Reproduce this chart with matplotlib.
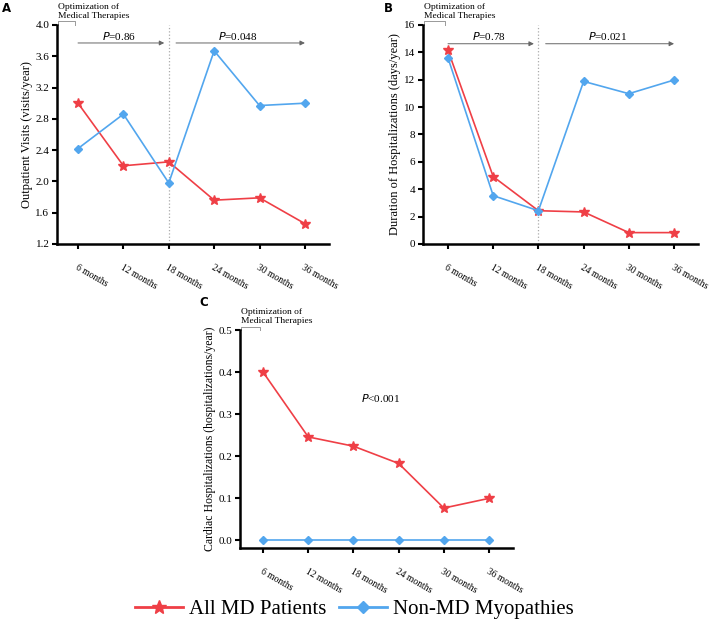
import numpy as np
import matplotlib
matplotlib.use('Agg')
import matplotlib.pyplot as plt
from matplotlib.lines import Line2D

plt.rcParams['font.family'] = ['Liberation Serif', 'DejaVu Serif']

months = ['6 months', '12 months', '18 months', '24 months', '30 months', '36 months']

# A: outpatient visits (visits/year)
visits_md = [3.00, 2.20, 2.25, 1.76, 1.79, 1.46]
visits_non = [2.42, 2.86, 1.98, 3.67, 2.97, 3.00]
# B: duration of hospitalizations (days/year)
days_md = [14.15, 4.92, 2.43, 2.34, 0.83, 0.83]
days_non = [13.6, 3.53, 2.43, 11.88, 10.98, 11.98]
# C: cardiac hospitalizations (hospitalizations/year)
hosp_md = [0.40, 0.246, 0.224, 0.183, 0.077, 0.100]
hosp_non = [0.0, 0.0, 0.0, 0.0, 0.0, 0.0]

red = '#EF3F46'
blue = '#52A6EE'
x = np.arange(len(months))

fig = plt.figure(figsize=(7.09, 6.2), dpi=100)
axA = fig.add_axes([0.0804, 0.6065, 0.3836, 0.3532])
axB = fig.add_axes([0.5966, 0.6065, 0.3879, 0.3532])
axC = fig.add_axes([0.3385, 0.1161, 0.3850, 0.3516])


def style_ax(ax, ylim, yticks, xlim, ylabel, ylabel_size):
    ax.set_xlim(*xlim)
    ax.set_ylim(*ylim)
    ax.set_yticks(yticks)
    ax.set_xticks(x)
    for s in ['top', 'right']:
        ax.spines[s].set_visible(False)
    for s in ['left', 'bottom']:
        ax.spines[s].set_linewidth(1.8)
    ax.tick_params(axis='both', width=1.5, length=3.5)
    ax.tick_params(axis='y', pad=2, labelsize=8)
    ax.tick_params(axis='x', pad=10, labelsize=6.9)
    ax.set_xticklabels(months, rotation=-30, ha='left', va='top',
                       rotation_mode='anchor', fontsize=6.9)
    ax.set_ylabel(ylabel, fontsize=ylabel_size, labelpad=2)
    # bracket + label for optimization period
    yr = ylim[1] - ylim[0]
    px = yr / (ax.get_position().height * 620)
    x0, x1 = xlim[0] + 0.03, -0.07
    yt = ylim[1] + 3.5 * px
    ax.plot([x0, x0, x1, x1], [ylim[1], yt, yt, ylim[1]], color='#999999',
            lw=0.7, clip_on=False)
    ax.text(x0, yt + 1.5 * px, 'Optimization of\nMedical Therapies',
            fontsize=6.8, ha='left', va='bottom', linespacing=1.15)


def draw_lines(ax, md, non):
    ax.plot(x, md, color=red, lw=1.2, marker='*', ms=7, clip_on=False, zorder=3)
    ax.plot(x, non, color=blue, lw=1.2, marker='D', ms=4.5, clip_on=False, zorder=3)


def arrows(ax, y_arrow, y_text, labels):
    segs = [(0.0, 1.9), (2.16, 5.0)]
    for (a, b), lab in zip(segs, labels):
        ax.annotate('', xy=(b, y_arrow), xytext=(a, y_arrow),
                    arrowprops=dict(arrowstyle='-|>', color='#666666', lw=0.7,
                                    mutation_scale=7, shrinkA=0, shrinkB=0))
        ax.text((a + b) / 2 - 0.05, y_text, '$P$=' + lab, fontsize=8,
                ha='center', va='center')
    ax.axvline(2, color='#AAAAAA', lw=0.9, ls=':', zorder=1)


# panel A
style_ax(axA, (1.2, 4.0), np.arange(1.2, 4.01, 0.4), (-0.463, 5.53),
         'Outpatient Visits (visits/year)', 9)
draw_lines(axA, visits_md, visits_non)
arrows(axA, 3.77, 3.86, ['0.86', '0.048'])
axA.set_yticklabels(['%.1f' % v for v in np.arange(1.2, 4.01, 0.4)])

# panel B
style_ax(axB, (0, 16), np.arange(0, 17, 2), (-0.553, 5.53),
         'Duration of Hospitalizations (days/year)', 9)
draw_lines(axB, days_md, days_non)
arrows(axB, 14.63, 15.2, ['0.78', '0.021'])

# panel C
style_ax(axC, (-0.018, 0.5), np.arange(0, 0.51, 0.1), (-0.51, 5.53),
         'Cardiac Hospitalizations (hospitalizations/year)', 8.5)
axC.set_yticklabels(['%.1f' % v for v in np.arange(0, 0.51, 0.1)])
draw_lines(axC, hosp_md, hosp_non)
axC.text(2.6, 0.339, '$P$<0.001', fontsize=8, ha='center', va='center')

# panel letters
for lab, px, py in [('A', 6.5, 8.5), ('B', 388, 8), ('C', 204, 302)]:
    fig.text(px / 709, 1 - py / 620, lab, fontsize=8.5, fontweight='bold',
             family='DejaVu Sans', ha='center', va='center')

# legend
handles = [Line2D([], [], color=red, lw=2, marker='*', ms=10),
           Line2D([], [], color=blue, lw=2, marker='D', ms=6.5)]
fig.legend(handles, ['All MD Patients', 'Non-MD Myopathies'], loc='center',
           bbox_to_anchor=(0.5, 1 - 609 / 620), ncol=2, frameon=False,
           fontsize=15, handlelength=2.3, handletextpad=0.3, columnspacing=0.6)

fig.savefig('out.png', dpi=100)
